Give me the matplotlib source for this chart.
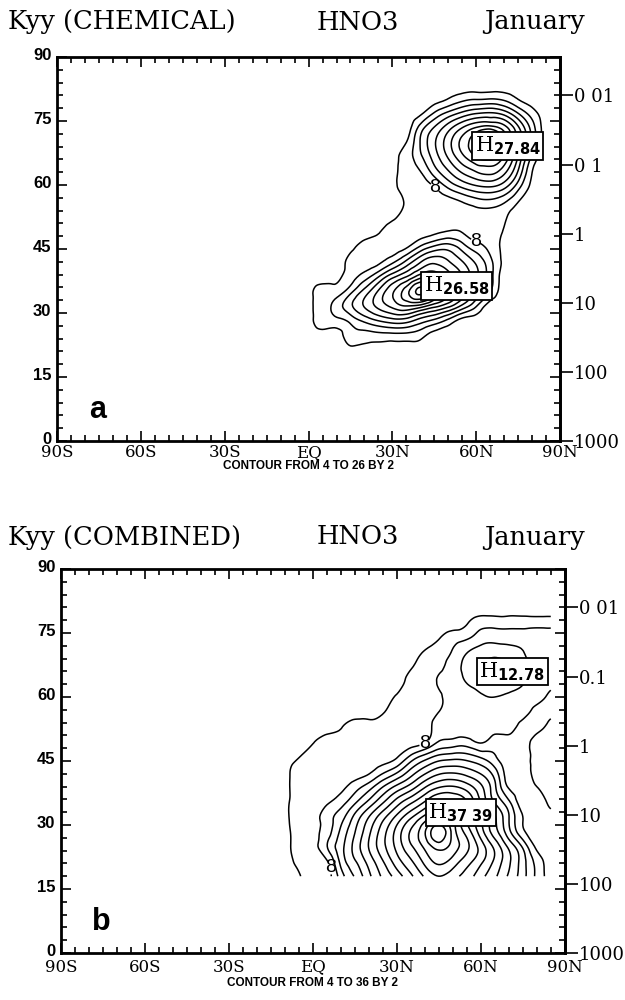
import numpy as np
import matplotlib.pyplot as plt
import matplotlib.tri as mtri
import matplotlib.transforms as mtransforms

plt.rcParams['mathtext.fontset'] = 'dejavusans'

# panel a: Kyy (chemical), values on a lat / altitude grid
lat_a = [0, 5, 10, 15, 20, 25, 30, 35, 40, 45, 50, 55, 60, 65, 70, 75, 80, 85, 90]
alt_a = [21, 24.5, 28, 31.5, 35, 38.5, 42, 45.5, 49, 52.5, 56, 59.5, 63, 66.5, 70, 73.5, 77, 80.5, 84, 87.5]
kyy_chem = np.array([
    [5, 5, 5, 5, 5, 5, 5, 5, 5, 5, 5, 5, 5, 5, 5, 5, 5, 5, 5],
    [5, 5, 5, 7, 7, 7, 7, 7, 6.5, 5, 5, 5, 5, 5, 5, 5, 5, 5, 5],
    [5, 7, 7.2, 8.4, 10.2, 11.7, 12.7, 12.5, 10.7, 9.1, 7.1, 5, 5, 5, 5, 5, 5, 5, 5],
    [5.5, 7.1, 8.9, 11.5, 14.1, 16.5, 18.4, 19.7, 18.7, 16.4, 14.3, 11.2, 8.0, 5, 5, 5, 5, 5, 5],
    [5, 7, 7, 9.4, 12.8, 16.3, 19.7, 23.2, 26.6, 22.9, 19.2, 15.4, 11.7, 8.0, 5, 5, 5, 5, 5],
    [5, 5, 5.5, 7, 9.0, 11.9, 15.4, 18.0, 21.2, 21.4, 19.1, 16.0, 12.6, 8.9, 5, 5, 5, 5, 5],
    [5, 5, 5, 6.6, 7, 7.5, 9.5, 12.5, 15.8, 17.5, 16.2, 14.1, 11.6, 8.6, 5.5, 5, 5, 5, 5],
    [5, 5, 5, 5.5, 6.8, 7, 7, 7.7, 10.3, 12.4, 13.0, 11.0, 8.9, 7.3, 5.5, 5, 5, 5, 5],
    [5, 5, 5, 5, 5, 5.8, 7, 7, 7, 7.5, 8.2, 7.9, 7, 7, 5.8, 5, 5, 5, 5],
    [5, 5, 5, 5, 5, 5, 5.5, 7, 7, 7, 7, 7, 7, 7, 6.3, 5, 5, 5, 5],
    [5, 5, 5, 5, 5, 5, 5, 6.3, 7, 7, 7.2, 8.0, 9.0, 9.3, 8.2, 6.0, 5, 5, 5],
    [5, 5, 5, 5, 5, 5, 5.5, 6.8, 7, 8.0, 10.3, 12.2, 13.5, 13.9, 12.5, 8.7, 5.5, 5, 5],
    [5, 5, 5, 5, 5, 5, 5.5, 6.8, 7.9, 10.9, 13.7, 16.2, 17.9, 18.6, 16.5, 11.7, 6.0, 5, 5],
    [5, 5, 5, 5, 5, 5, 5.5, 6.9, 9.5, 12.9, 16.2, 19.4, 22.0, 23.2, 19.7, 13.8, 7.5, 5, 5],
    [5, 5, 5, 5, 5, 5, 5, 6.0, 10.1, 13.7, 17.2, 20.7, 24.3, 27.8, 21.6, 15.4, 9.2, 5, 5],
    [5, 5, 5, 5, 5, 5, 5, 5, 8.8, 12.1, 15.1, 17.9, 20.0, 20.9, 18.8, 14.3, 9.0, 5, 5],
    [5, 5, 5, 5, 5, 5, 5, 5, 5.5, 8.0, 10.3, 12.2, 13.5, 13.9, 12.8, 9.7, 6.8, 5, 5],
    [5, 5, 5, 5, 5, 5, 5, 5, 5, 5, 5.8, 6.9, 7.35, 7.5, 7.1, 5.7, 5, 5, 5],
    [5, 5, 5, 5, 5, 5, 5, 5, 5, 5, 5, 5, 5, 5, 5, 5, 5, 5, 5],
    [5, 5, 5, 5, 5, 5, 5, 5, 5, 5, 5, 5, 5, 5, 5, 5, 5, 5, 5],
])

# panel b: Kyy (combined)
lat_b = [-10, -5, 0, 5, 10, 15, 20, 25, 30, 35, 40, 45, 50, 55, 60, 65, 70, 75, 80, 85]
alt_b = [18, 21.5, 25, 28.5, 32, 35.5, 39, 42.5, 46, 49.5, 53, 56.5, 60, 63.5, 67, 70.5, 74, 77.5, 81, 84.5]
kyy_comb = np.array([
    [5, 5.8, 7, 7, 11.0, 14.2, 17.5, 20.4, 22.9, 25.6, 28.3, 30.0, 28.8, 27.1, 24.7, 22.4, 19.7, 16.8, 13.5, 11],
    [5, 6.5, 7, 7.8, 12.6, 15.8, 18.8, 21.9, 25.1, 27.7, 30.6, 32.5, 31.2, 28.9, 26.5, 23.6, 20.4, 16.9, 13.2, 11],
    [5, 6.8, 7.3, 9.9, 13.3, 16.7, 20.1, 23.4, 26.6, 29.7, 32.5, 34.9, 33.2, 30.5, 27.1, 23.4, 19.5, 15.6, 11.5, 11],
    [5, 7, 7.6, 9, 12.4, 15.9, 19.5, 23.1, 26.7, 30.2, 33.8, 37.4, 33.2, 29.1, 24.9, 20.8, 16.6, 12.4, 11, 11],
    [5.3, 7, 7.3, 9, 11.1, 14.5, 17.9, 21.2, 24.4, 27.5, 30.4, 32.8, 31.7, 27.5, 24.0, 20.2, 16.1, 12.0, 11, 11],
    [5.2, 7, 7, 7.6, 9, 11.5, 14.4, 17.6, 20.8, 23.4, 26.0, 28.3, 28.2, 26.0, 21.9, 17.7, 14.3, 11, 11, 9],
    [5.2, 7, 7, 7, 7.5, 9, 11.0, 13.9, 16.5, 18.8, 21.7, 23.7, 24.1, 22.9, 20.4, 16.4, 11.7, 11, 10, 9],
    [5, 7, 7, 7, 7, 7, 7.6, 9.5, 11.6, 14.7, 17.3, 19.2, 19.6, 18.9, 17.5, 14.8, 11, 11, 9, 9],
    [5, 5.9, 7, 7, 7, 7, 7, 7, 7.8, 10.5, 12.8, 14.6, 15.1, 14.9, 13.7, 12.2, 11, 11, 9, 9],
    [5, 5, 5.8, 7, 7, 7, 7, 7, 7, 7, 7.7, 10.1, 10.6, 10.8, 9.75, 11, 11, 11, 9, 9],
    [5, 5, 5, 5, 5.8, 7, 7, 7, 7, 7, 7, 9, 9, 9, 9, 9, 9, 11, 11, 9],
    [5, 5, 5, 5, 5, 5, 5, 5.8, 7, 7, 7, 8, 9, 9, 9, 9, 9, 9, 11, 11],
    [5, 5, 5, 5, 5, 5, 5, 5, 6.3, 7, 7, 7.6, 9, 9, 9.7, 10.0, 9.7, 9, 9, 11],
    [5, 5, 5, 5, 5, 5, 5, 5, 5, 6.8, 7, 8.2, 9, 10.1, 11.0, 11.4, 11.0, 10.2, 9, 9],
    [5, 5, 5, 5, 5, 5, 5, 5, 5, 5.8, 7, 7.6, 9, 10.5, 11.6, 12.8, 11.7, 10.6, 9.4, 9],
    [5, 5, 5, 5, 5, 5, 5, 5, 5, 5, 6.2, 7, 8.2, 9.9, 10.8, 11.2, 10.8, 10.1, 9, 9],
    [5, 5, 5, 5, 5, 5, 5, 5, 5, 5, 5, 5.8, 7, 7.6, 9, 9.3, 9.1, 9, 9, 9],
    [5, 5, 5, 5, 5, 5, 5, 5, 5, 5, 5, 5, 5, 5.8, 7, 7, 7, 7, 7, 7],
    [5, 5, 5, 5, 5, 5, 5, 5, 5, 5, 5, 5, 5, 5, 5, 5, 5, 5, 5, 5],
    [5, 5, 5, 5, 5, 5, 5, 5, 5, 5, 5, 5, 5, 5, 5, 5, 5, 5, 5, 5],
])

lat_ticks = [-90, -60, -30, 0, 30, 60, 90]
lat_labels = ['90S', '60S', '30S', 'EQ', '30N', '60N', '90N']
alt_ticks = [0, 15, 30, 45, 60, 75, 90]
p_ticks = [1000, 100, 10, 1, 0.1, 0.01]
p_labels_a = ['1000', '100', '10', '1', '0 1', '0 01']
p_labels_b = ['1000', '100', '10', '1', '0.1', '0 01']


def alt2p(z):
    return 1000.0 * 10 ** (-np.asarray(z, dtype=float) / 16.2)


def p2alt(p):
    p = np.clip(np.asarray(p, dtype=float), 1e-6, None)
    return 16.2 * np.log10(1000.0 / p)


def panel(ax, lat, alt, z, top, p_labels, xpad, label_pos):
    lo, al = np.meshgrid(lat, alt)
    tri = mtri.Triangulation(lo.ravel(), al.ravel())
    tri_f, z_f = mtri.UniformTriRefiner(tri).refine_field(z.ravel(), subdiv=3)
    levels = [lv for lv in range(4, top + 1, 2) if lv != 8]
    ax.tricontour(tri_f, z_f, levels=levels, colors='k', linewidths=1.1)
    cs8 = ax.tricontour(tri_f, z_f, levels=[8], colors='k', linewidths=1.1)
    labels = ax.clabel(cs8, manual=label_pos, fmt='%d', fontsize=14,
                       inline=True, inline_spacing=3)
    for t in labels:
        t.set_rotation(0)
        t.set_family('Liberation Sans')
        t.set_fontsize(14)

    ax.set_xlim(-90, 90)
    ax.set_ylim(0, 90)
    ax.set_xticks(lat_ticks)
    ax.set_xticklabels(lat_labels, family='DejaVu Serif', fontsize=12)
    ax.set_xticks(np.arange(-90, 91, 5), minor=True)
    ax.set_yticks(alt_ticks)
    ax.set_yticklabels([str(t) for t in alt_ticks], family='Liberation Sans',
                       fontsize=12, fontweight='bold')
    ax.set_yticks(np.arange(0, 91, 3), minor=True)
    ax.tick_params(which='both', direction='in', top=True, right=True, width=1.2)
    ax.tick_params(which='major', length=7)
    ax.tick_params(which='minor', length=4)
    ax.tick_params(axis='x', pad=xpad)
    ax.tick_params(axis='y', pad=4)
    lift = mtransforms.ScaledTranslation(0, 2.5 / 72, ax.figure.dpi_scale_trans)
    for t in ax.get_yticklabels():
        t.set_transform(t.get_transform() + lift)
    for s in ax.spines.values():
        s.set_linewidth(2)

    sec = ax.secondary_yaxis('right', functions=(alt2p, p2alt))
    sec.set_yticks(p_ticks)
    sec.set_yticklabels(p_labels, family='DejaVu Serif', fontsize=13)
    sec.tick_params(direction='out', length=9, width=1.2, pad=1)
    sec.spines['right'].set_linewidth(2)


fig = plt.figure(figsize=(6.25, 10), dpi=100)
ax_a = fig.add_axes([0.0912, 0.559, 0.805, 0.384])
ax_b = fig.add_axes([0.0976, 0.047, 0.806, 0.384])

panel(ax_a, lat_a, alt_a, kyy_chem, 26, p_labels_a, 2.5, [(45.6, 60), (60, 47.9)])
panel(ax_b, lat_b, alt_b, kyy_comb, 36, p_labels_b, 4, [(40, 48.5), (9, 20.8)])

box = dict(boxstyle='square,pad=0.12', fc='white', ec='k', lw=1.3)
hi = [(ax_a, 59.5, 69.2, r'H$_{\mathbf{27.84}}$'),
      (ax_a, 41.2, 36.3, r'H$_{\mathbf{26.58}}$'),
      (ax_b, 59.5, 66.0, r'H$_{\mathbf{12.78}}$'),
      (ax_b, 41.2, 32.9, r'H$_{\mathbf{37\ 39}}$')]
for ax, x, y, s in hi:
    ax.text(x, y, s, family='DejaVu Serif', fontsize=15, ha='left', va='center',
            bbox=box, zorder=5)

for ax, letter in [(ax_a, 'a'), (ax_b, 'b')]:
    ax.text(0.08, 0.08, letter, transform=ax.transAxes, family='Liberation Sans',
            fontweight='bold', fontsize=22, ha='center', va='center')

ax_a.text(0.5, -0.066, 'CONTOUR FROM 4 TO 26 BY 2', transform=ax_a.transAxes,
          ha='center', va='center', family='Liberation Sans', fontweight='bold', fontsize=8.5)
ax_b.text(0.5, -0.078, 'CONTOUR FROM 4 TO 36 BY 2', transform=ax_b.transAxes,
          ha='center', va='center', family='Liberation Sans', fontweight='bold', fontsize=8.5)

for y, name in [(0.978, 'Kyy (CHEMICAL)'), (0.463, 'Kyy (COMBINED)')]:
    fig.text(0.013, y, name, family='DejaVu Serif', fontsize=18.5, ha='left', va='center')
    fig.text(0.572, y, 'HNO3', family='DejaVu Serif', fontsize=18.5, ha='center', va='center')
    fig.text(0.935, y, 'January', family='DejaVu Serif', fontsize=18.5, ha='right', va='center')

fig.savefig('out.png', dpi=100)
